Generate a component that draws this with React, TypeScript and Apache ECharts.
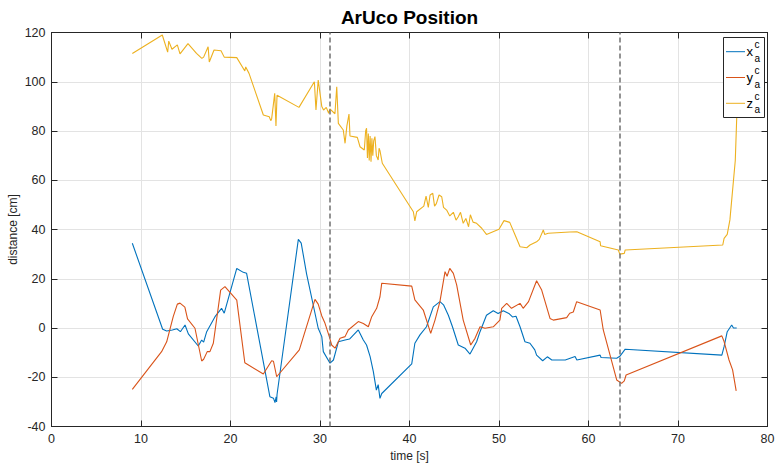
import React, { useEffect, useRef } from "react";
import * as echarts from "echarts";

const xTime = [9.03, 12.42, 12.87, 13.5, 14.0, 14.4, 14.92, 15.29, 16.4, 16.78, 17.0, 17.34, 18.27, 19.0, 19.3, 20.7, 21.43, 21.8, 24.4, 24.8, 24.97, 25.1, 25.15, 25.2, 27.58, 27.9, 28.5, 29.8, 30.2, 30.37, 31.12, 31.5, 32.05, 32.8, 33.3, 34.28, 34.84, 35.2, 35.6, 35.96, 36.3, 36.5, 36.7, 36.9, 40.25, 40.6, 41.17, 41.9, 42.66, 43.4, 43.8, 44.34, 44.8, 45.45, 46.2, 46.76, 47.5, 47.88, 48.6, 49.36, 49.9, 50.48, 51.1, 51.5, 51.9, 52.35, 52.9, 53.46, 54.0, 54.2, 54.88, 55.4, 55.9, 57.4, 58.5, 58.7, 61.3, 61.4, 63.15, 63.5, 64.1, 74.9, 75.15, 75.5, 76.0, 76.2, 76.56];
const xVals = [34.4, -0.5, -1.2, -0.8, -0.3, -1.5, 1.2, -2.4, -7.3, -4.9, -5.7, -1.5, 4.6, 8.0, 6.0, 24.2, 22.6, 22.2, -27.9, -28.5, -30.3, -28, -30, -27, 36, 34.5, 22, -0.1, -3.5, -9.6, -14.3, -13, -5.6, -4.9, -4.5, -0.8, -4.9, -6.9, -11.6, -17.7, -25.2, -23, -28.6, -26.6, -14.6, -6.2, -2.8, 0.5, 8.6, 10.7, 9.4, 5.2, 0.5, -6.9, -8.2, -10.6, -5.6, -1.5, 5.2, 7, 5.9, 7, 5.9, 4.5, 4.8, 0.5, -5.6, -6.2, -8.9, -11, -13.3, -11.7, -13, -13, -11.6, -13, -11, -12, -12.3, -11.5, -8.6, -11, -7.6, -1.5, 1.2, 0, 0];

const yTime = [9.03, 12.3, 12.87, 13.6, 14.06, 14.36, 14.9, 15.2, 16.03, 16.78, 17.0, 17.4, 17.7, 18.08, 18.9, 19.38, 20.7, 21.6, 23.67, 24.6, 24.8, 25.16, 27.69, 29.44, 29.8, 30.2, 30.56, 31.04, 31.3, 31.68, 32.24, 32.8, 33.16, 34.28, 34.84, 35.4, 35.78, 36.33, 36.7, 36.9, 40.25, 40.6, 41.54, 42.37, 42.85, 43.4, 43.97, 44.2, 44.5, 44.9, 45.27, 46.0, 46.84, 47.32, 47.88, 48.44, 49.36, 50.1, 50.3, 50.86, 51.4, 52.35, 52.7, 53.3, 54.2, 54.77, 55.7, 56.07, 57.56, 57.9, 58.3, 58.68, 61.3, 61.65, 63.15, 63.7, 64.0, 64.2, 74.9, 75.15, 75.7, 76.1, 76.5];
const yVals = [-24.9, -9.6, -5.6, 4.6, 9.7, 10.1, 8.5, 3.7, -0.1, -13.4, -12.7, -9.6, -9.6, -6.2, 15.4, 16.8, 11.3, -14.1, -18.7, -13.3, -13.5, -19.8, -8.9, 11.6, 9.7, 4.9, 1.9, -3.5, -6.9, -8.2, -4.2, -3.5, -0.8, 2.6, 1.8, 0.5, 4.6, 8, 12.7, 18.2, 17, 11.4, 7.3, -2.2, 3.2, 10.7, 22.9, 21, 24.2, 22.2, 17.5, 3.2, -6.9, -4.2, 0.5, -0.1, 0.5, 3.2, 8, 10, 8, 10, 8, 10.7, 19.2, 15.4, 3.9, 3.2, 4.2, 6, 6.5, 10.7, 7.3, -0.8, -21.1, -22.5, -21.5, -19.1, -3.2, -5.5, -13, -17, -25.5];

const zTime = [9.03, 12.38, 12.98, 13.1, 13.46, 14.06, 14.36, 15.25, 16.2, 16.8, 17.0, 17.5, 17.63, 18.16, 18.94, 19.3, 20.7, 21.6, 21.7, 22.07, 23.67, 24.33, 24.5, 24.6, 24.94, 25.08, 25.2, 27.65, 29.37, 29.55, 29.8, 30.2, 30.4, 30.7, 30.97, 31.1, 31.67, 31.87, 32.05, 32.6, 32.8, 33.0, 33.24, 33.35, 34.17, 34.47, 34.95, 35.1, 35.2, 35.3, 35.4, 35.5, 35.6, 35.7, 35.8, 35.9, 36.0, 36.14, 36.3, 36.5, 36.6, 36.7, 36.96, 40.43, 40.6, 40.8, 41.6, 41.85, 42.1, 42.3, 42.6, 42.8, 43.0, 43.3, 43.6, 43.8, 44.15, 44.5, 44.9, 45.2, 45.45, 45.7, 46.0, 46.3, 46.6, 46.8, 47.1, 47.5, 48.07, 48.6, 49.2, 50.0, 50.56, 51.2, 51.8, 52.35, 53.1, 53.46, 54.2, 54.5, 54.95, 55.1, 55.5, 57.9, 58.7, 61.3, 61.35, 63.33, 63.5, 64.0, 64.1, 75.0, 75.15, 75.5, 75.8, 76.2, 76.4, 76.56, 76.65];
const zVals = [111.5, 119, 112, 116.5, 113.2, 115, 111.3, 115.5, 111.5, 109.5, 110, 114.2, 108, 112.9, 112.6, 110, 109.8, 104.4, 106, 103.4, 86.5, 85.8, 84.2, 85, 95.3, 82, 94.5, 89.6, 100, 88.5, 100.7, 89.9, 88.5, 89.6, 87.2, 89, 87, 98, 83.1, 80.4, 75, 82, 86.9, 78, 77.4, 73.6, 72.3, 80, 81.1, 69, 79, 68, 78, 67.5, 77, 70, 76, 77.7, 70, 68.2, 73, 72, 66.9, 47.2, 43.5, 47.2, 49.5, 53.6, 49, 54, 54.7, 49.5, 50.5, 54, 53.3, 49, 47.9, 45.5, 47, 43.8, 45.2, 47, 42.5, 44.5, 41.1, 46, 43, 42.5, 40.5, 38, 38.9, 40.1, 43.6, 42.9, 37.8, 33, 32.6, 33.7, 35, 36, 39.8, 38, 38.5, 39, 39.1, 35, 33.4, 31.7, 30, 30.3, 31.7, 33.7, 36.4, 38, 43.9, 60, 68, 85.2, 90];

const eventTimes = [31.04, 63.5];
const legendNames = ["x", "y", "z"];
const seriesColors = ["#0072BD", "#D95319", "#EDB120"];

const FONT = "'Liberation Sans', Arial, Helvetica, sans-serif";
const TXT = "#262626";

function zip(t: number[], v: number[]) {
  return t.map((tt, i) => [tt, v[i]]);
}

export default function App() {
  const ref = useRef<HTMLDivElement>(null);
  useEffect(() => {
    if (!ref.current) return;
    const chart = echarts.init(ref.current, null, { renderer: "svg" });
    const gridL = 51.5, gridT = 32.5, gridR = 7.5, gridB = 37.5;

    const baseX = {
      type: "value", min: 0, max: 80, interval: 10,
    };
    const baseY = {
      type: "value", min: -40, max: 120, interval: 20,
    };
    const legendX0 = 723.5, legendY0 = 37.5, legendW = 41, legendH = 80;
    const legendGraphics: any[] = [
      {
        type: "rect", z: 100,
        shape: { x: legendX0, y: legendY0, width: legendW, height: legendH },
        style: { fill: "#fff", stroke: TXT, lineWidth: 1 },
      },
    ];
    legendNames.forEach((n, i) => {
      const cy = 51.7 + i * 25.8;
      legendGraphics.push({
        type: "line", z: 101,
        shape: { x1: 726, y1: cy, x2: 745, y2: cy },
        style: { stroke: seriesColors[i], lineWidth: 1 },
      });
      legendGraphics.push({
        type: "text", z: 101, x: 746.5, y: cy,
        style: { text: n, font: `13px ${FONT}`, fill: "#000", textVerticalAlign: "middle", textAlign: "left" },
      });
      legendGraphics.push({
        type: "text", z: 101, x: 754.5, y: cy - 7,
        style: { text: "c", font: `10px ${FONT}`, fill: "#000", textVerticalAlign: "middle", textAlign: "left" },
      });
      legendGraphics.push({
        type: "text", z: 101, x: 754.5, y: cy + 6.5,
        style: { text: "a", font: `10px ${FONT}`, fill: "#000", textVerticalAlign: "middle", textAlign: "left" },
      });
    });

    const option: any = {
      animation: false,
      backgroundColor: "#fff",
      textStyle: { fontFamily: FONT },
      grid: { left: gridL, top: gridT, right: gridR, bottom: gridB, containLabel: false, outerBoundsMode: "none" },
      xAxis: [
        {
          ...baseX, position: "bottom",
          name: "time [s]", nameLocation: "middle", nameGap: 23, nameMoveOverlap: false,
          nameTextStyle: { color: TXT, fontSize: 12, fontFamily: FONT },
          axisLine: { show: true, onZero: false, lineStyle: { color: TXT, width: 1 } },
          axisTick: { show: true, inside: true, length: 6, lineStyle: { color: TXT } },
          axisLabel: { color: TXT, fontSize: 12.5, fontFamily: FONT, margin: 6 },
          splitLine: { show: true, lineStyle: { color: "#e3e3e3", width: 1 } },
        },
        {
          ...baseX, position: "top",
          axisLine: { show: true, onZero: false, lineStyle: { color: TXT, width: 1 } },
          axisTick: { show: true, inside: true, length: 6, lineStyle: { color: TXT } },
          axisLabel: { show: false },
          splitLine: { show: false },
        },
      ],
      yAxis: [
        {
          ...baseY, position: "left",
          name: "distance [cm]", nameLocation: "middle", nameGap: 33, nameRotate: 90, nameMoveOverlap: false,
          nameTextStyle: { color: TXT, fontSize: 12, fontFamily: FONT },
          axisLine: { show: true, onZero: false, lineStyle: { color: TXT, width: 1 } },
          axisTick: { show: true, inside: true, length: 6, lineStyle: { color: TXT } },
          axisLabel: { color: TXT, fontSize: 12.5, fontFamily: FONT, margin: 6 },
          splitLine: { show: true, lineStyle: { color: "#e3e3e3", width: 1 } },
        },
        {
          ...baseY, position: "right",
          axisLine: { show: true, onZero: false, lineStyle: { color: TXT, width: 1 } },
          axisTick: { show: true, inside: true, length: 6, lineStyle: { color: TXT } },
          axisLabel: { show: false },
          splitLine: { show: false },
        },
      ],
      series: [
        {
          name: "x", type: "line", data: zip(xTime, xVals), showSymbol: false, symbol: "none",
          lineStyle: { color: seriesColors[0], width: 1.1 }, itemStyle: { color: seriesColors[0] }, z: 3,
          markLine: {
            silent: true, symbol: "none", animation: false,
            label: { show: false },
            lineStyle: { color: "#707070", type: [5, 3], width: 1.5 },
            data: eventTimes.map((t) => ({ xAxis: t })),
          },
        },
        {
          name: "y", type: "line", data: zip(yTime, yVals), showSymbol: false, symbol: "none",
          lineStyle: { color: seriesColors[1], width: 1.1 }, itemStyle: { color: seriesColors[1] }, z: 3,
        },
        {
          name: "z", type: "line", data: zip(zTime, zVals), showSymbol: false, symbol: "none",
          lineStyle: { color: seriesColors[2], width: 1.1 }, itemStyle: { color: seriesColors[2] }, z: 3,
        },
      ],
      graphic: [
        {
          type: "text", x: 409.5, y: 17,
          style: { text: "ArUco Position", font: `bold 19px ${FONT}`, fill: "#000", textAlign: "center", textVerticalAlign: "middle" },
        },
        ...legendGraphics,
      ],
    };
    chart.setOption(option);
    return () => chart.dispose();
  }, []);
  return <div ref={ref} style={{ width: 775, height: 464, position: "absolute", left: 0, top: 0 }} />;
}
